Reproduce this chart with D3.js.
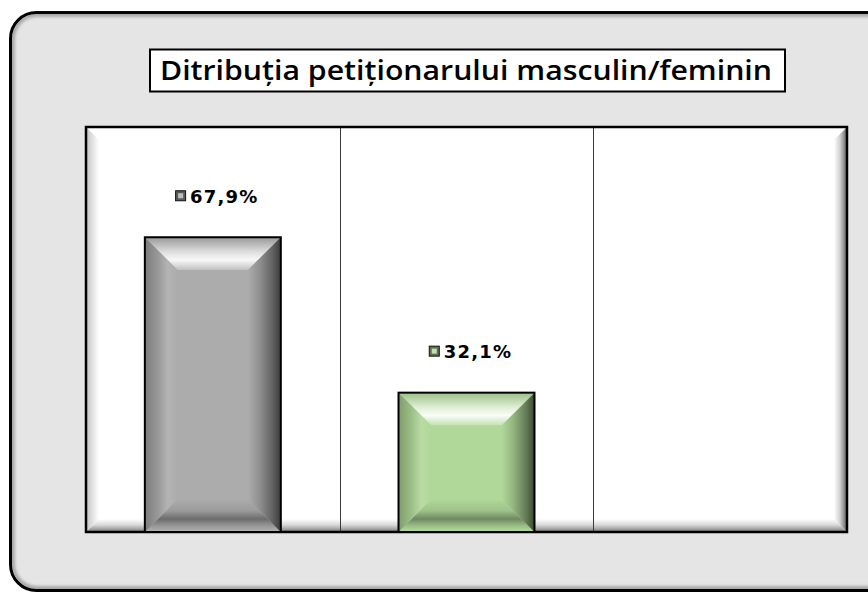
<!DOCTYPE html>
<html>
<head>
<meta charset="utf-8">
<script src="https://cdn.jsdelivr.net/npm/d3@7"></script>
<style>
body { margin: 0; background: #fff; }
</style>
</head>
<body>
<script>
// chart data
var categories = ["Masculin", "Feminin", "-"];
var values = [0.679, 0.321, null];
var valueLabels = ["67,9%", "32,1%", ""];
var barColors = ["#acacac", "#b0d898", "#ffffff"];
var title = "Ditribuția petiționarului masculin/feminin";

var width = 868, height = 594;
var plot = {left: 86, top: 127, right: 847, bottom: 532};
var fontFamily = "'DejaVu Sans', 'Open Sans', sans-serif";

var svg = d3.select("body").append("svg")
    .attr("width", width)
    .attr("height", height);
var defs = svg.append("defs");

function linGrad(id, x1, y1, x2, y2, stops) {
    var g = defs.append("linearGradient").attr("id", id)
        .attr("x1", x1).attr("y1", y1).attr("x2", x2).attr("y2", y2);
    stops.forEach(function(s) {
        g.append("stop").attr("offset", s[0]).attr("stop-color", s[1]);
    });
    return "url(#" + id + ")";
}

defs.append("filter").attr("id", "soft")
    .attr("x", "-5%").attr("y", "-5%").attr("width", "110%").attr("height", "110%")
  .append("feGaussianBlur").attr("stdDeviation", 1.5);
defs.append("clipPath").attr("id", "frameClip")
  .append("rect")
    .attr("x", 12).attr("y", 14)
    .attr("width", 900).attr("height", 575)
    .attr("rx", 25);

// outer frame
svg.append("rect")
    .attr("x", 10.5).attr("y", 12.5)
    .attr("width", 900).attr("height", 578)
    .attr("rx", 26)
    .attr("fill", "#e5e5e5");
svg.append("rect")
    .attr("clip-path", "url(#frameClip)")
    .attr("x", 12).attr("y", 14)
    .attr("width", 900).attr("height", 575)
    .attr("rx", 25)
    .attr("fill", "none")
    .attr("stroke", "#a8a8a8")
    .attr("stroke-width", 6)
    .attr("filter", "url(#soft)");
svg.append("rect")
    .attr("x", 10.5).attr("y", 12.5)
    .attr("width", 900).attr("height", 578)
    .attr("rx", 26)
    .attr("fill", "none")
    .attr("stroke", "#000")
    .attr("stroke-width", 3);

// title box
svg.append("rect")
    .attr("x", 150).attr("y", 49.5)
    .attr("width", 635).attr("height", 42)
    .attr("fill", "#fff")
    .attr("stroke", "#000")
    .attr("stroke-width", 2);
svg.append("text")
    .attr("x", 160).attr("y", 80)
    .attr("textLength", 612)
    .attr("lengthAdjust", "spacingAndGlyphs")
    .style("font-family", "'Open Sans', 'DejaVu Sans', sans-serif")
    .style("font-size", "27px")
    .style("font-weight", 600)
    .attr("fill", "#000")
    .text(title);

// scales
var x = d3.scaleBand()
    .domain(categories)
    .range([plot.left, plot.right])
    .paddingInner(0.464)
    .paddingOuter(0.232);

var y = d3.scaleLinear()
    .domain([0, 0.933])
    .range([plot.bottom, plot.top]);

// plot area
svg.append("rect")
    .attr("x", plot.left).attr("y", plot.top)
    .attr("width", plot.right - plot.left)
    .attr("height", plot.bottom - plot.top)
    .attr("fill", "#fff");

var pb = 12;
var pr = plot.right - 1, pbot = plot.bottom - 1, pl = plot.left + 1, pt = plot.top + 1;
svg.append("polygon")
    .attr("points", [[pr, pt], [pr, pbot], [pr - pb, pbot - pb], [pr - pb, pt + pb]].join(" "))
    .attr("fill", linGrad("pRight", 0, 0, 1, 0, [[0, "#fff"], [0.5, "#d0d0d0"], [1, "#707070"]]));
svg.append("polygon")
    .attr("points", [[pl, pbot], [pr, pbot], [pr - pb, pbot - pb], [pl + pb, pbot - pb]].join(" "))
    .attr("fill", linGrad("pBottom", 0, 0, 0, 1, [[0, "#fff"], [0.5, "#d8d8d8"], [1, "#8a8a8a"]]));
svg.append("polygon")
    .attr("points", [[pl, pt], [pl + pb, pt + pb], [pl + pb, pbot - pb], [pl, pbot]].join(" "))
    .attr("fill", linGrad("pLeft", 0, 0, 1, 0, [[0, "#c8c8c8"], [1, "#fff"]]));

// vertical grid lines between categories
svg.append("g").selectAll("line")
    .data(d3.range(1, categories.length))
    .join("line")
    .attr("x1", function(i) { return Math.round(plot.left + i * x.step()) + 0.5; })
    .attr("x2", function(i) { return Math.round(plot.left + i * x.step()) + 0.5; })
    .attr("y1", plot.top)
    .attr("y2", plot.bottom)
    .attr("stroke", "#3a3a3a")
    .attr("stroke-width", 1);

svg.append("rect")
    .attr("x", plot.left).attr("y", plot.top)
    .attr("width", plot.right - plot.left)
    .attr("height", plot.bottom - plot.top)
    .attr("fill", "none")
    .attr("stroke", "#000")
    .attr("stroke-width", 2.5);

// bevelled bars
var bars = categories.map(function(c, i) {
    return {cat: c, value: values[i], label: valueLabels[i], color: barColors[i], i: i};
}).filter(function(d) { return d.value != null; });

bars.forEach(function(d) {
    var base = d3.color(d.color);
    var x0 = x(d.cat), w = x.bandwidth();
    var y0 = y(d.value), y1 = y(0);
    var b = Math.min(33, w * 0.24, (y1 - y0) * 0.25);
    var g = svg.append("g");

    var dark = function(k) { return base.darker(k).formatHex(); };
    var light = function(k) { return d3.interpolateRgb(base, "#fff")(k); };

    g.append("rect")
        .attr("x", x0).attr("y", y0).attr("width", w).attr("height", y1 - y0)
        .attr("fill", d.color);
    g.append("polygon")
        .attr("points", [[x0, y0], [x0 + w, y0], [x0 + w - b, y0 + b], [x0 + b, y0 + b]].join(" "))
        .attr("fill", linGrad("top" + d.i, 0, 0, 0, 1,
            [[0, dark(0.35)], [0.45, light(0.6)], [0.7, light(0.92)], [1, light(0.25)]]));
    g.append("polygon")
        .attr("points", [[x0, y1], [x0 + w, y1], [x0 + w - b, y1 - b], [x0 + b, y1 - b]].join(" "))
        .attr("fill", linGrad("bot" + d.i, 0, 0, 0, 1,
            [[0, d.color], [0.35, dark(0.3)], [0.6, dark(1.3)], [0.8, dark(0.4)], [1, light(0.1)]]));
    g.append("polygon")
        .attr("points", [[x0, y0], [x0 + b, y0 + b], [x0 + b, y1 - b], [x0, y1]].join(" "))
        .attr("fill", linGrad("left" + d.i, 0, 0, 1, 0,
            [[0, dark(0.9)], [0.4, dark(0.35)], [0.7, light(0.1)], [1, d.color]]));
    g.append("polygon")
        .attr("points", [[x0 + w, y0], [x0 + w - b, y0 + b], [x0 + w - b, y1 - b], [x0 + w, y1]].join(" "))
        .attr("fill", linGrad("right" + d.i, 0, 0, 1, 0,
            [[0, d.color], [0.35, dark(0.5)], [0.75, dark(1.6)], [1, dark(3)]]));
    g.append("rect")
        .attr("x", x0).attr("y", y0).attr("width", w).attr("height", y1 - y0)
        .attr("fill", "none")
        .attr("stroke", "#000")
        .attr("stroke-width", 2);

    // data label with legend key
    var lab = svg.append("g");
    var key = lab.append("g");
    key.append("rect")
        .attr("x", 0.5).attr("y", -5.5).attr("width", 10).attr("height", 10)
        .attr("fill", dark(1.8))
        .attr("stroke", "#111");
    key.append("rect")
        .attr("x", 3).attr("y", -3).attr("width", 5).attr("height", 5)
        .attr("fill", light(0.2));
    var t = lab.append("text")
        .attr("x", 15).attr("y", 6.5)
        .style("font-family", fontFamily)
        .style("font-size", "18px")
        .style("font-weight", "bold")
        .style("letter-spacing", "1.2px")
        .attr("fill", "#000")
        .text(d.label);
    var tw = 15 + t.node().getComputedTextLength();
    lab.attr("transform", "translate(" + (x0 + w / 2 + 4 - tw / 2) + "," + (y0 - 41) + ")");
});
</script>
</body>
</html>
